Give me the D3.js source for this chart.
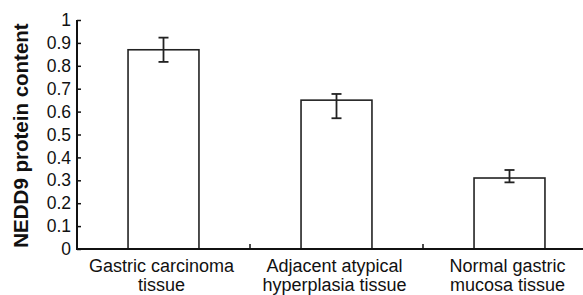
<!DOCTYPE html>
<html>
<head>
  <style>
    html, body { margin: 0; padding: 0; background: #fff; overflow: hidden; }
    text { font-family: Arial, "Liberation Sans", sans-serif; fill: #111; }
  </style>
  <script src="https://d3js.org/d3.v7.min.js"></script>
</head>
<body>
  <div id="chart"></div>
  <script>
    // data
    const categories = [["Gastric carcinoma", "tissue"], ["Adjacent atypical", "hyperplasia tissue"], ["Normal gastric", "mucosa tissue"]];
    const values = [0.87, 0.65, 0.31];
    const errHigh = [0.923, 0.677, 0.345];
    const errLow = [0.817, 0.571, 0.291];
    const yTicks = [0, 0.1, 0.2, 0.3, 0.4, 0.5, 0.6, 0.7, 0.8, 0.9, 1];

    const width = 583, height = 295;
    const plotLeft = 77, plotTop = 20, plotBottom = 249, plotRight = 596;

    const svg = d3.select("#chart").append("svg")
      .attr("width", width)
      .attr("height", height);

    const x = d3.scaleBand().domain(d3.range(categories.length)).range([plotLeft, plotRight]).padding(0);
    const y = d3.scaleLinear().domain([0, 1]).range([plotBottom, plotTop]);
    const barW = x.bandwidth() * 0.41;

    // bars
    svg.selectAll(".bar")
      .data(values)
      .enter()
      .append("rect")
      .attr("x", (d, i) => x(i) + x.bandwidth() / 2 - barW / 2)
      .attr("y", d => y(d))
      .attr("width", barW)
      .attr("height", d => y(0) - y(d))
      .attr("fill", "#fff")
      .attr("stroke", "#222")
      .attr("stroke-width", 1.6);

    // error bars
    const eb = svg.selectAll(".err")
      .data(values)
      .enter()
      .append("g")
      .attr("stroke", "#222")
      .attr("stroke-width", 1.8);
    eb.append("line")
      .attr("x1", (d, i) => x(i) + x.bandwidth() / 2)
      .attr("x2", (d, i) => x(i) + x.bandwidth() / 2)
      .attr("y1", (d, i) => y(errHigh[i]))
      .attr("y2", (d, i) => y(errLow[i]));
    eb.append("line")
      .attr("x1", (d, i) => x(i) + x.bandwidth() / 2 - 5)
      .attr("x2", (d, i) => x(i) + x.bandwidth() / 2 + 5)
      .attr("y1", (d, i) => y(errHigh[i]))
      .attr("y2", (d, i) => y(errHigh[i]));
    eb.append("line")
      .attr("x1", (d, i) => x(i) + x.bandwidth() / 2 - 5)
      .attr("x2", (d, i) => x(i) + x.bandwidth() / 2 + 5)
      .attr("y1", (d, i) => y(errLow[i]))
      .attr("y2", (d, i) => y(errLow[i]));

    // y axis, ticks pointing inward
    const yAxis = svg.append("g")
      .attr("transform", `translate(${plotLeft},0)`)
      .call(d3.axisRight(y).tickValues(yTicks).tickSize(4).tickFormat(d => d3.format("")(d)));
    yAxis.select(".domain").attr("d", `M0,${plotTop}V${plotBottom}`).attr("stroke", "#111").attr("stroke-width", 2);
    yAxis.selectAll(".tick line").attr("stroke", "#111").attr("stroke-width", 1.5);
    yAxis.selectAll(".tick text")
      .attr("x", -6)
      .attr("text-anchor", "end")
      .attr("font-size", 17.5)
      .attr("fill", "#111")
      .attr("font-family", "Arial, 'Liberation Sans', sans-serif");

    // x axis
    const xAxisG = svg.append("g");
    xAxisG.append("line")
      .attr("x1", plotLeft - 1).attr("x2", width)
      .attr("y1", plotBottom).attr("y2", plotBottom)
      .attr("stroke", "#111").attr("stroke-width", 2);
    xAxisG.selectAll(".sep")
      .data(d3.range(1, categories.length))
      .enter()
      .append("line")
      .attr("x1", i => x(i)).attr("x2", i => x(i))
      .attr("y1", plotBottom).attr("y2", plotBottom - 5)
      .attr("stroke", "#111").attr("stroke-width", 1.5);

    const labels = xAxisG.selectAll(".xlab")
      .data(categories)
      .enter()
      .append("text")
      .attr("text-anchor", "middle")
      .attr("font-size", 18);
    labels.append("tspan")
      .attr("x", (d, i) => x(i) + x.bandwidth() / 2 - 2)
      .attr("y", 272)
      .text(d => d[0]);
    labels.append("tspan")
      .attr("x", (d, i) => x(i) + x.bandwidth() / 2 - 2)
      .attr("y", 291)
      .text(d => d[1]);

    // y title
    svg.append("text")
      .attr("transform", `translate(28,${(plotTop + plotBottom) / 2 + 1}) rotate(-90)`)
      .attr("text-anchor", "middle")
      .attr("font-size", 20.5)
      .attr("font-weight", "bold")
      .text("NEDD9 protein content");
  </script>
</body>
</html>
